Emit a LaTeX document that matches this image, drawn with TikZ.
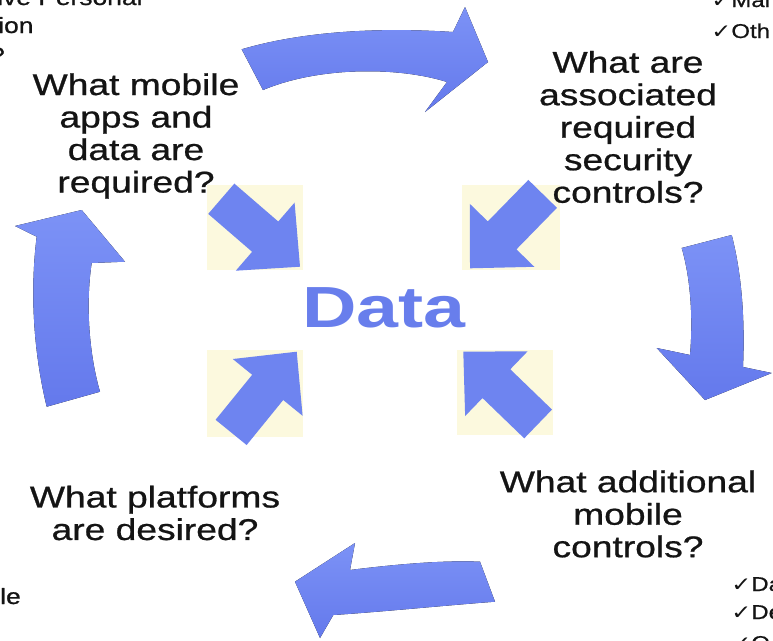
\documentclass[tikz,border=0pt]{standalone}
\usepackage{fontspec}
\setmainfont{Liberation Sans}
\newfontfamily\heavyfont{Liberation Sans}[FakeBold=0.7]
\newfontfamily\chkfont{DejaVu Sans}
\definecolor{arrowblue}{RGB}{110,132,240}
\definecolor{arrowtop}{RGB}{124,146,246}
\definecolor{arrowbot}{RGB}{100,121,236}
\definecolor{datablue}{RGB}{104,126,236}
\definecolor{cream}{RGB}{252,249,222}
\definecolor{ink}{RGB}{20,20,20}
\tikzset{
  bigarrow/.style={top color=arrowtop, bottom color=arrowbot, draw=none},
  smallarrow/.style={fill=arrowblue, draw=none},
  creambox/.style={fill=cream, draw=none},
  question/.style={align=center, text=ink, xscale=1.24,
    font=\heavyfont\fontsize{30}{32.5}\selectfont, inner sep=0pt},
  sidetext/.style={text=ink, xscale=1.2, inner sep=0pt,
    font=\heavyfont\fontsize{20}{24}\selectfont},
  edgetext/.style={text=ink, xscale=1.2, inner sep=0pt,
    font=\heavyfont\fontsize{22}{26}\selectfont},
}
\newcommand{\inarrow}[3]{%
  \fill[smallarrow, shift={(#1,#2)}, rotate=#3]
    (0,0) -- (-46,-45) -- (-46,-20) -- (-104,-20) -- (-104,20)
    -- (-46,20) -- (-46,45) -- cycle;}
\begin{document}
\begin{tikzpicture}[x=1pt,y=-1pt]
\useasboundingbox (0,0) rectangle (773,640);
\clip (0,0) rectangle (773,640);
\fill[white] (0,0) rectangle (773,640);

% cream squares
\fill[creambox] (207,185) rectangle (303,270);
\fill[creambox] (462,185) rectangle (560,270);
\fill[creambox] (207,350) rectangle (303,437);
\fill[creambox] (457,350) rectangle (553,435);

% small inward arrows
\inarrow{300}{266.7}{-40.8}
\inarrow{470}{268.3}{-134.3}
\inarrow{296.7}{351.7}{50.9}
\inarrow{463.3}{351.7}{136}

% top curved arrow
\fill[bigarrow] (241.7,49.3) .. controls (290,35) and (360,26) .. (453,32)
  -- (465,7) -- (488,62) -- (425,112) -- (447,82)
  .. controls (400,67) and (320,66) .. (263,90) -- cycle;
% right curved arrow
\fill[bigarrow] (681.7,248) -- (731.7,235)
  .. controls (742,275) and (745,320) .. (743,367)
  -- (771.7,373) -- (705,400) -- (656.7,348) -- (690,355)
  .. controls (693,320) and (691,280) .. (681.7,248) -- cycle;
% bottom curved arrow
\fill[bigarrow] (295,581.7) -- (355,543) -- (350,570)
  .. controls (390,565) and (440,560) .. (480,561.7)
  -- (495,601.7)
  .. controls (450,605) and (380,612) .. (333.3,615)
  -- (320,638) -- cycle;
% left curved arrow
\fill[bigarrow] (81.7,210) -- (125,261.7) -- (91.7,263)
  .. controls (86,300) and (88,350) .. (100,391.7)
  -- (46.7,406.7)
  .. controls (33,350) and (30,290) .. (36.7,236.7)
  -- (15,226) -- cycle;

% centre
\node[text=datablue, font=\fontsize{58}{60}\selectfont\bfseries, xscale=1.3, inner sep=0pt]
  (data) at (384,308) {Data};

% questions
\node[question] (q1) at (136,136) {What mobile\\apps and\\data are\\required?};
\node[question] (q2) at (628,127) {What are\\associated\\required\\security\\controls?};
\node[question] (q3) at (628,514) {What additional\\mobile\\controls?};
\node[question] (q4) at (155,513) {What platforms\\are desired?};

% cut-off side texts
\node[edgetext, anchor=base west] (tl1) at (-3,5) {ive Personal};
\node[edgetext, anchor=base west] (tl2) at (-2,33) {ion};
\node[edgetext, anchor=base east] (tl3) at (5,63) {?};
\node[edgetext, anchor=base east] (bl1) at (21,604) {le};
\node[sidetext, anchor=base west] (tr1) at (711,7) {{\chkfont ✓}Mal};
\node[sidetext, anchor=base west] (tr2) at (711,38) {{\chkfont ✓}Oth};
\node[sidetext, anchor=base west] (br1) at (731,591) {{\chkfont ✓}Da};
\node[sidetext, anchor=base west] (br2) at (731,619) {{\chkfont ✓}De};
\node[sidetext, anchor=base west] (br3) at (731,650) {{\chkfont ✓}O};
\end{tikzpicture}
\end{document}
